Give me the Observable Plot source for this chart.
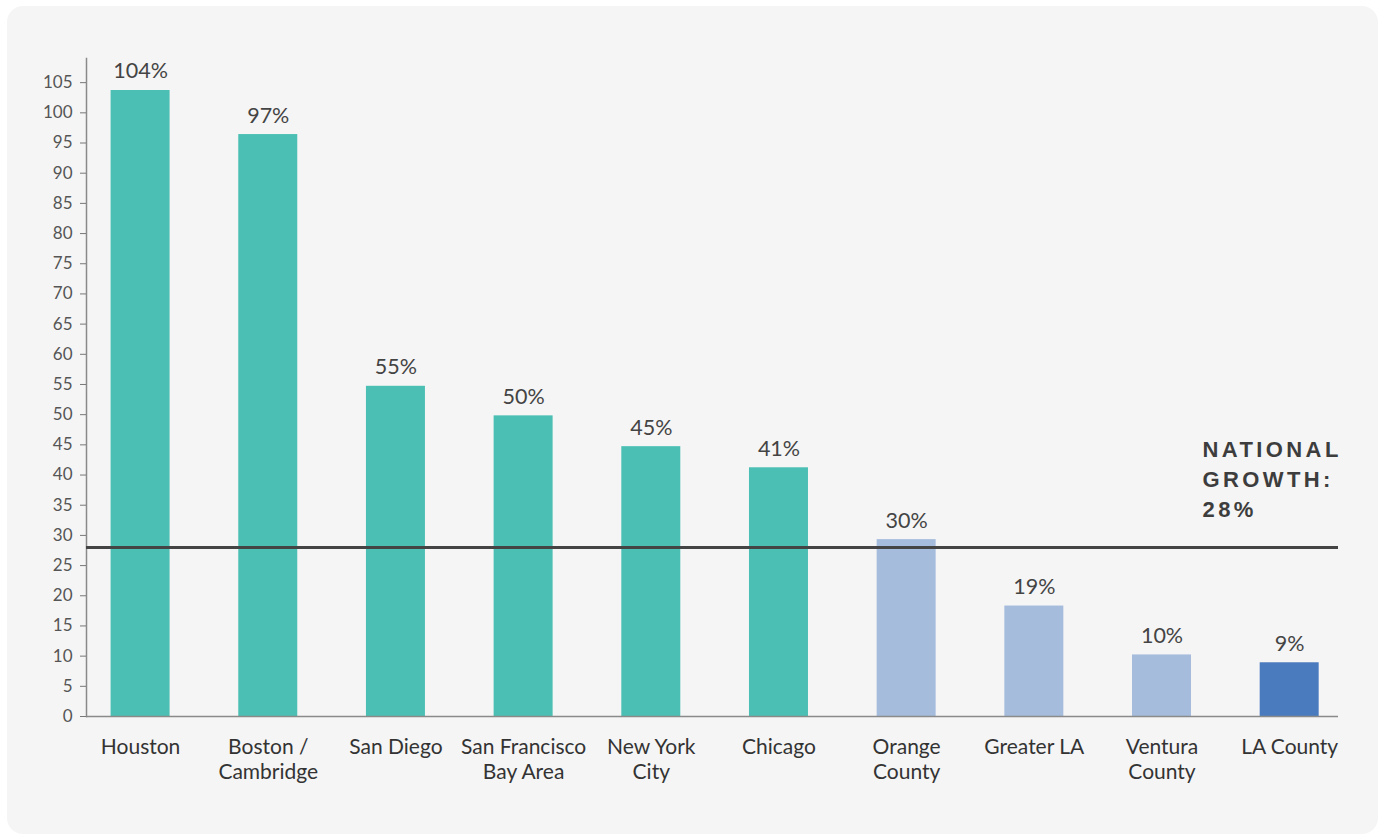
<!DOCTYPE html>
<html><head><meta charset="utf-8">
<script src="https://cdn.jsdelivr.net/npm/d3@7"></script>
<script src="https://cdn.jsdelivr.net/npm/@observablehq/plot@0.6"></script>
<style>
body{margin:0;background:#fff;}
#card{position:absolute;left:7px;top:6px;width:1371px;height:828px;border-radius:16px;background:#f5f5f5;}
#chart{position:absolute;left:0;top:0;}
</style></head><body>
<div id="card"></div><div id="chart"></div>
<script>
const cities = ["Houston","Boston /\nCambridge","San Diego","San Francisco\nBay Area","New York\nCity","Chicago","Orange\nCounty","Greater LA","Ventura\nCounty","LA County"];
const growth = [103.7, 96.4, 54.7, 49.8, 44.7, 41.2, 29.3, 18.3, 10.2, 8.9];
const labels = ["104%","97%","55%","50%","45%","41%","30%","19%","10%","9%"];
const groups = ["metro","metro","metro","metro","metro","metro","socal","socal","socal","la"];
const yTicks = [0,5,10,15,20,25,30,35,40,45,50,55,60,65,70,75,80,85,90,95,100,105];
const nationalGrowth = 28;
const nationalLabel = "NATIONAL\nGROWTH:\n28%";

const data = cities.map((c,i)=>({city:c, value:growth[i], label:labels[i], group:groups[i]}));

const plot = Plot.plot({
  width:1382, height:837,
  marginLeft:86, marginRight:44, marginTop:58, marginBottom:121,
  style:{background:"transparent", fontFamily:"Lato, sans-serif"},
  x:{domain:cities, paddingInner:0.538, paddingOuter:0.172, align:0.56, round:false, label:null},
  y:{domain:[0,109], label:null},
  color:{domain:["metro","socal","la"], range:["#4BBFB3","#A5BCDD","#4A7BBE"]},
  marks:[
    Plot.barY(data,{x:"city", y:"value", fill:"group"}),
    Plot.ruleY([0],{stroke:"#8a8a8a", strokeWidth:1.5}),
    Plot.frame({anchor:"left", stroke:"#8a8a8a", strokeWidth:1.5}),
    Plot.axisY({ticks:yTicks, tickSize:6, tickPadding:8, fontSize:17, fill:"#555", stroke:"#777", label:null}),
    Plot.axisX({tickSize:0, tickPadding:20, fontSize:21, fill:"#333", lineHeight:1.17, label:null}),
    Plot.ruleY([nationalGrowth],{stroke:"#444", strokeWidth:3}),
    Plot.text(data,{x:"city", y:"value", text:"label", lineAnchor:"bottom", dy:-12, fontSize:21.5, fill:"#444"}),
    Plot.text([{y:nationalGrowth, t:nationalLabel}],{y:"y", text:"t", frameAnchor:"right", textAnchor:"start", dx:-136, lineAnchor:"bottom", dy:-30, fontSize:22, fontWeight:"bold", lineHeight:1.38, fill:"#3d3d3d", fontFamily:"Liberation Sans, Arial, sans-serif"})
  ]
});
document.getElementById("chart").appendChild(plot);
plot.querySelectorAll("text").forEach(t=>{ if (t.textContent.startsWith("NATIONAL")) t.setAttribute("letter-spacing","3.4px"); });
</script>
</body></html>
